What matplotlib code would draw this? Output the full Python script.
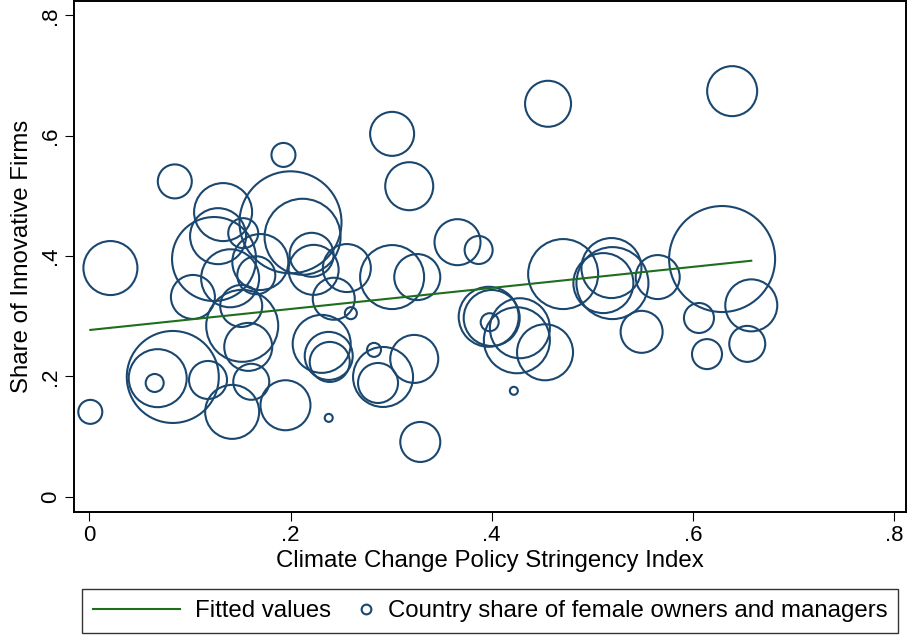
import matplotlib
matplotlib.use("Agg")
import matplotlib.pyplot as plt
import numpy as np
from matplotlib.lines import Line2D
from matplotlib.legend_handler import HandlerBase

plt.rcParams['font.family'] = ['Liberation Sans', 'DejaVu Sans']

# Climate Change Policy Stringency Index
policy_index = [0.001, 0.021, 0.065, 0.083, 0.068, 0.085, 0.103, 0.118, 0.124, 0.128,
                0.133, 0.140, 0.142, 0.151, 0.152, 0.153, 0.158, 0.161, 0.166, 0.170,
                0.193, 0.195, 0.200, 0.212, 0.221, 0.223, 0.231, 0.238, 0.239, 0.238,
                0.243, 0.256, 0.260, 0.283, 0.292, 0.287, 0.301, 0.318, 0.301, 0.326,
                0.323, 0.329, 0.366, 0.387, 0.397, 0.400, 0.398, 0.428, 0.425, 0.453,
                0.422, 0.456, 0.471, 0.519, 0.520, 0.511, 0.565, 0.549, 0.606, 0.614,
                0.629, 0.639, 0.658, 0.654]
# Share of Innovative Firms
innov_share = [0.141, 0.380, 0.189, 0.199, 0.197, 0.524, 0.332, 0.194, 0.395, 0.433,
               0.473, 0.363, 0.141, 0.317, 0.284, 0.438, 0.249, 0.191, 0.368, 0.390,
               0.568, 0.152, 0.456, 0.432, 0.402, 0.377, 0.254, 0.234, 0.224, 0.131,
               0.329, 0.380, 0.305, 0.244, 0.199, 0.189, 0.603, 0.516, 0.365, 0.365,
               0.229, 0.091, 0.423, 0.410, 0.299, 0.297, 0.290, 0.280, 0.260, 0.240,
               0.176, 0.653, 0.370, 0.380, 0.355, 0.355, 0.365, 0.274, 0.297, 0.237,
               0.395, 0.674, 0.318, 0.254]
# Country share of female owners and managers (bubble weight, relative)
female_weight = [1.44, 7.29, 0.81, 21.16, 8.41, 2.89, 4.84, 3.61, 17.64, 7.84,
                 8.41, 8.41, 7.29, 4.41, 12.96, 2.25, 5.76, 3.24, 3.61, 7.84,
                 1.44, 6.25, 26.01, 14.44, 4.84, 6.25, 8.41, 5.76, 4.00, 0.16,
                 4.41, 5.76, 0.36, 0.49, 9.00, 4.00, 4.84, 5.76, 10.24, 5.29,
                 5.76, 4.00, 5.29, 1.96, 9.00, 7.84, 0.81, 9.00, 10.89, 7.84,
                 0.16, 5.29, 12.25, 9.00, 12.96, 9.00, 4.84, 4.41, 2.25, 2.25,
                 28.09, 6.25, 6.76, 3.24]

# Fitted values (linear fit)
fit_intercept = 0.277
fit_slope = 0.175

x_ticks = [0, 0.2, 0.4, 0.6, 0.8]
x_tick_labels = ["0", ".2", ".4", ".6", ".8"]
y_ticks = [0, 0.2, 0.4, 0.6, 0.8]
y_tick_labels = ["0", ".2", ".4", ".6", ".8"]

legend_labels = ["Fitted values", "Country share of female owners and managers"]

navy = "#1a476f"
green = "#1e6e1e"

fig = plt.figure(figsize=(9.07, 6.37), dpi=100)
ax = fig.add_axes([74/907, 1 - 511.7/637, (906-74)/907, (511.7-1)/637])

x = np.array(policy_index)
y = np.array(innov_share)
w = np.array(female_weight)
sizes = 207.36 * w

ax.scatter(x, y, s=sizes, facecolors='none', edgecolors=navy, linewidths=1.5, zorder=2)

fx = np.array([x.min(), x.max()])
fy = fit_intercept + fit_slope * fx
ax.plot(fx, fy, color=green, lw=1.5, zorder=3)

ax.set_xlim(-0.0152, 0.8118)
ax.set_ylim(-0.0249, 0.8238)
ax.set_xticks(x_ticks)
ax.set_xticklabels(x_tick_labels)
ax.set_yticks(y_ticks)
ax.set_yticklabels(y_tick_labels, rotation=90, va='center')
ax.tick_params(axis='both', direction='out', length=6.5, width=0.8, labelsize=16, pad=3)
for sp in ax.spines.values():
    sp.set_linewidth(1.4)
    sp.set_color('black')

ax.set_xlabel("Climate Change Policy Stringency Index", fontsize=17.3, labelpad=3)
ax.set_ylabel("Share of Innovative Firms", fontsize=17.3, labelpad=5)


class RightMarkerHandler(HandlerBase):
    def create_artists(self, legend, orig_handle, xdescent, ydescent, width,
                       height, fontsize, trans):
        m = Line2D([-xdescent + width - 5], [(height - ydescent) / 2.0],
                   marker='o', ls='none', markerfacecolor='none',
                   markeredgecolor=navy, markersize=7, markeredgewidth=1.5,
                   transform=trans)
        return [m]


line_handle = Line2D([], [], color=green, lw=1.5)
marker_handle = Line2D([], [], marker='o', ls='none', markerfacecolor='none',
                       markeredgecolor=navy, markersize=7, markeredgewidth=1.5)
leg = fig.legend([line_handle, marker_handle], legend_labels,
                 handler_map={marker_handle: RightMarkerHandler()},
                 loc='center', bbox_to_anchor=(490/907, 1 - 611/637), ncol=2,
                 fontsize=17.3, frameon=True, fancybox=False, edgecolor='black',
                 handlelength=3.62, columnspacing=-1.87, handletextpad=0.62,
                 borderpad=0.45, borderaxespad=0)
leg.get_frame().set_linewidth(1.0)

fig.savefig("out.png", dpi=100)
